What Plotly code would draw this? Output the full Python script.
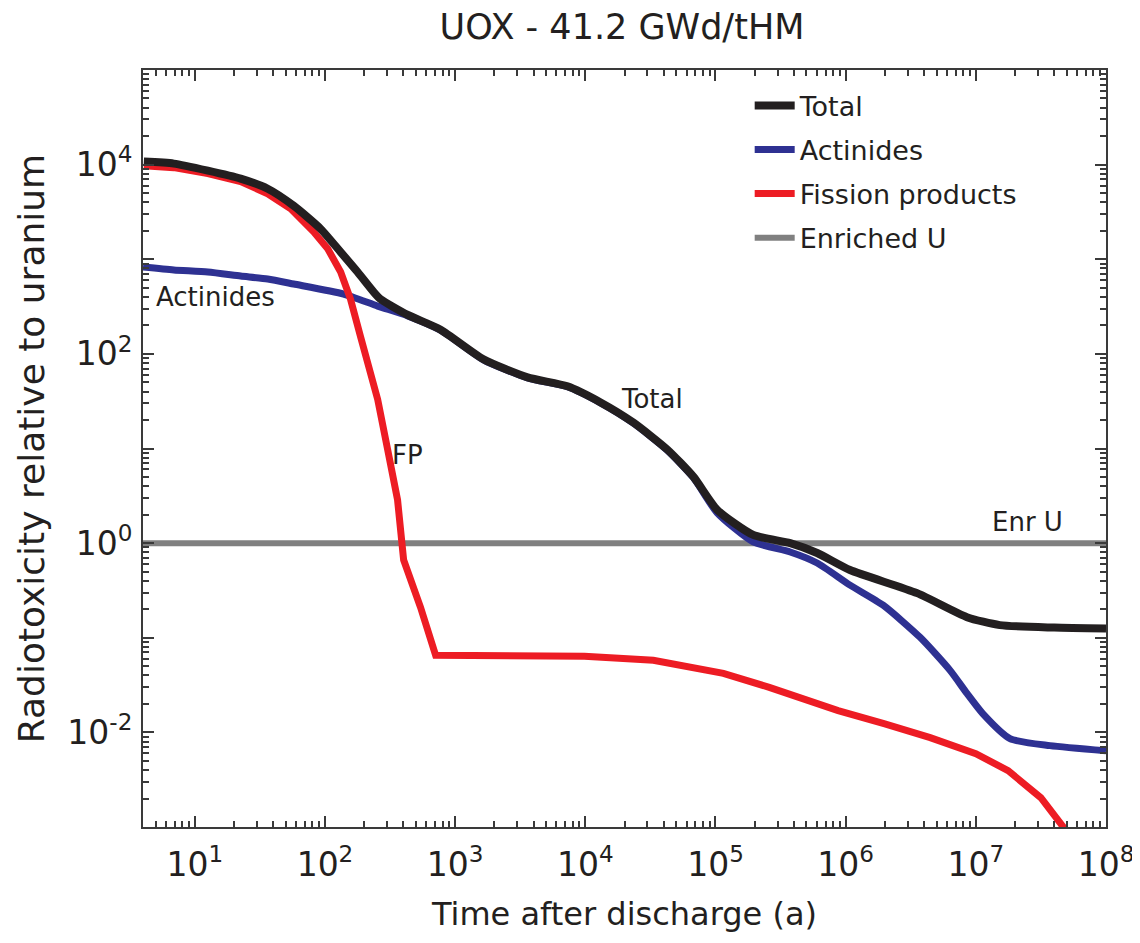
import plotly.graph_objects as go

# ---- data (time after discharge in years, radiotoxicity relative to uranium) ----
total_t = [4.06, 6.9, 12.6, 22.5, 36.3, 57.5, 92.7, 132, 178, 237, 267, 432, 773, 1650, 3600,
           7290, 13100, 23400, 42700, 67600, 103000, 195000, 375000, 604000, 1.08e6, 3.54e6,
           8.55e6, 1.53e7, 4.0e7, 1.0e8]
total_v = [10760, 10250, 8630, 7110, 5560, 3670, 2090, 1190, 733, 450, 379, 258, 180, 87.7, 56.5,
           45.4, 30.7, 18.8, 9.73, 5.04, 2.25, 1.22, 1.00, 0.787, 0.520, 0.296,
           0.165, 0.136, 0.128, 0.125]

act_t = [4.0, 6.9, 12.6, 22.5, 36.3, 57.5, 139, 254, 432, 773, 1650, 3600, 7290, 13100, 23400,
         42700, 67600, 103000, 195000, 375000, 604000, 1.08e6, 1.94e6, 3.73e6, 6.34e6, 8.55e6,
         1.13e7, 1.83e7, 3.71e7, 1.0e8]
act_v = [828, 771, 733, 665, 618, 547, 429, 320, 252, 178, 86.5, 55.8, 44.9, 30.3, 18.5,
         9.55, 4.92, 2.09, 1.03, 0.807, 0.617, 0.36, 0.221, 0.101, 0.0452, 0.0258,
         0.0158, 0.0086, 0.00724, 0.0064]

fp_t = [4.06, 6.9, 12.6, 22.5, 36.3, 54.6, 81.8, 105, 132, 157, 188, 254, 303, 361, 402, 542,
        708, 2230, 9840, 33300, 115000, 259000, 875000, 1.97e6, 4.46e6, 1.0e7, 1.77e7, 3.16e7,
        4.75e7, 6.0e7]
fp_v = [9750, 9290, 8040, 6610, 4920, 3410, 1950, 1290, 733, 379, 150, 33.0, 9.73, 2.87, 0.664,
        0.210, 0.0652, 0.0652, 0.0637, 0.0577, 0.0421, 0.0299, 0.0170, 0.0124, 0.00881,
        0.00596, 0.00394, 0.00204, 0.00098, 0.0005]

enr_t = [4.0, 1.0e8]
enr_v = [1.0, 1.0]

x_tick_exp = [1, 2, 3, 4, 5, 6, 7, 8]
y_tick_exp = [-3, -2, -1, 0, 1, 2, 3, 4, 5]
y_label_exp = [-2, 0, 2, 4]

labels = [("Actinides", 1.161, 2.60), ("FP", 2.635, 0.935), ("Total", 4.515, 1.519),
          ("Enr U", 7.40, 0.225)]

TXT = "#231f20"
FONT = "DejaVu Sans"

fig = go.Figure()
fig.add_trace(go.Scatter(x=enr_t, y=enr_v, mode="lines", name="Enriched U",
                         line=dict(color="#808080", width=6), legendrank=4, legendgroup="d"))
fig.add_trace(go.Scatter(x=act_t, y=act_v, mode="lines", name="Actinides",
                         line=dict(color="#2e3192", width=7, shape="spline", smoothing=0.6),
                         legendrank=2, legendgroup="b"))
fig.add_trace(go.Scatter(x=fp_t, y=fp_v, mode="lines", name="Fission products",
                         line=dict(color="#ed1c24", width=7), legendrank=3, legendgroup="c"))
fig.add_trace(go.Scatter(x=total_t, y=total_v, mode="lines", name="Total",
                         line=dict(color="#231f20", width=8, shape="spline", smoothing=0.6),
                         legendrank=1, legendgroup="a"))

x_minor = [m * 10 ** e for e in range(0, 8) for m in range(2, 10)]
y_minor = [m * 10 ** e for e in range(-3, 5) for m in range(2, 10)]

axis_common = dict(
    type="log", showgrid=False, zeroline=False, showline=True, linecolor="#3a3a3a",
    linewidth=2, mirror="allticks", ticks="inside", ticklen=11, tickwidth=2,
    tickcolor="#3a3a3a", tickfont=dict(family=FONT, size=33, color=TXT), automargin=False,
)

fig.update_xaxes(
    **axis_common,
    range=[0.602, 8],
    tickmode="array",
    tickvals=[10 ** e for e in x_tick_exp],
    ticktext=[f"10<sup>{e}</sup>" for e in x_tick_exp],
    ticklabelstandoff=7,
    minor=dict(tickmode="array", tickvals=x_minor, ticks="inside", ticklen=6,
               tickwidth=1.5, tickcolor="#3a3a3a"),
    title=dict(text="Time after discharge (a)", font=dict(family=FONT, size=32, color=TXT),
               standoff=20),
)
fig.update_yaxes(
    **axis_common,
    range=[-3, 5],
    tickmode="array",
    tickvals=[10 ** e for e in y_tick_exp],
    ticktext=[f"10<sup>{e}</sup>" if e in y_label_exp else "" for e in y_tick_exp],
    ticklabelstandoff=2,
    minor=dict(tickmode="array", tickvals=y_minor, ticks="inside", ticklen=6,
               tickwidth=1.5, tickcolor="#3a3a3a"),
    title=dict(text="Radiotoxicity relative to uranium",
               font=dict(family=FONT, size=36, color=TXT), standoff=12),
)

for text, lx, ly in labels:
    fig.add_annotation(x=lx, y=ly, xref="x", yref="y", text=text, showarrow=False,
                       font=dict(family=FONT, size=26, color=TXT))

# the page body adds an 8px offset; the figure is sized to compensate
fig.update_layout(
    width=1132, height=935,
    margin=dict(l=135, r=34, t=62, b=116),
    paper_bgcolor="white", plot_bgcolor="white",
    title=dict(text="UOX - 41.2 GWd/tHM", x=0.5424, xanchor="center", y=0.9797, yanchor="middle",
               font=dict(family=FONT, size=35, color=TXT)),
    legend=dict(x=0.63, y=0.985, xanchor="left", yanchor="top", bgcolor="rgba(0,0,0,0)",
                font=dict(family=FONT, size=27, color=TXT), tracegroupgap=6,
                traceorder="grouped", itemwidth=40),
    showlegend=True,
)

fig.write_html("out.html")
